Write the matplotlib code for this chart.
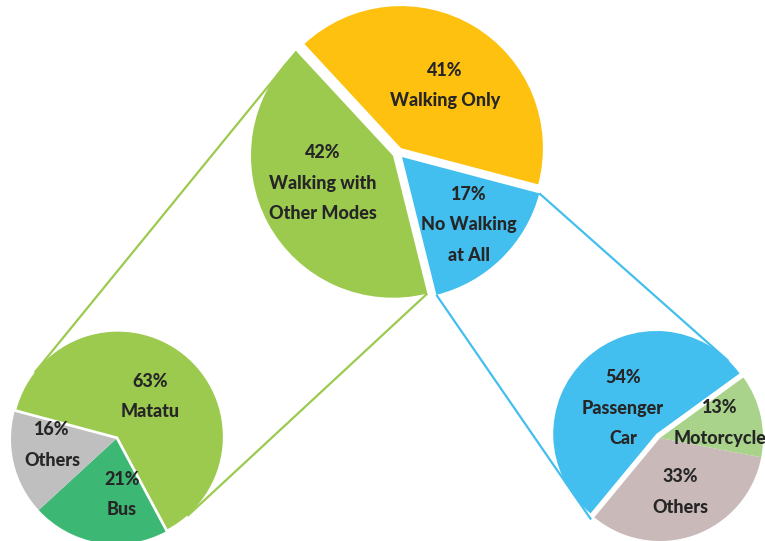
import numpy as np
import matplotlib.pyplot as plt

# main pie: how people travel
main_labels = ['Walking with\nOther Modes', 'No Walking\nat All', 'Walking Only']
main_values = [42, 17, 41]
main_colors = ['#9BCA4F', '#43BFEF', '#FEC10F']

# walking with other modes -> breakdown
walk_labels = ['Matatu', 'Bus', 'Others']
walk_values = [63, 21, 16]
walk_colors = ['#9BCA4F', '#3DB874', '#BFBFBF']

# no walking at all -> breakdown
nowalk_labels = ['Passenger\nCar', 'Others', 'Motorcycle']
nowalk_values = [54, 33, 13]
nowalk_colors = ['#43BFEF', '#C9B9B8', '#A9D38B']

W, H = 765, 541
fig = plt.figure(figsize=(W / 100, H / 100), dpi=100)
ax = fig.add_axes([0, 0, 1, 1])

TXT = '#262626'
FONT = dict(family='Lato', weight=900, size=13, color=TXT,
            ha='center', va='center', linespacing=1.95)


def draw_pie(values, colors, center, radius, start, ccw, explode):
    wedges, _ = ax.pie(values, colors=colors, center=center, radius=radius,
                       startangle=start, counterclock=ccw, explode=explode,
                       wedgeprops=dict(linewidth=0), normalize=True)
    for w in wedges:
        w.set_zorder(3)
    return wedges


def label(wedge, text, dist, dtheta=0):
    th = np.radians((wedge.theta1 + wedge.theta2) / 2 + dtheta)
    cx, cy = wedge.center
    ax.text(cx + dist * wedge.r * np.cos(th), cy + dist * wedge.r * np.sin(th),
            text, zorder=5, **FONT)


def corner(wedge, ang):
    cx, cy = wedge.center
    a = np.radians(ang)
    return np.array([cx + wedge.r * np.cos(a), cy + wedge.r * np.sin(a)])


def tangent(p, center, r, sign, ext=0):
    o = np.array(center)
    v = p - o
    d = np.hypot(*v)
    phi = np.arctan2(v[1], v[0])
    a = phi + sign * np.arccos(r / d)
    t = o + r * np.array([np.cos(a), np.sin(a)])
    u = (t - p) / np.hypot(*(t - p))
    return t + ext * u


# main pie
R_main = 142
c_main = (398, H - 153)
mw = draw_pie(main_values, main_colors, c_main, R_main, 132.8, True,
              [5.7, 5.7, 5.7])
pct = [f'{v}%' for v in main_values]
label(mw[0], pct[0] + '\n' + main_labels[0], 0.53, -7)
label(mw[1], pct[1] + '\n' + main_labels[1], 0.67, 0)
label(mw[2], pct[2] + '\n' + main_labels[2], 0.54, -4)

# left sub pie
R_sub = 105
c_left = (116, H - 439)
lw_ = draw_pie(walk_values, walk_colors, c_left, R_sub, 165, False,
               [3, 0, 0])
label(lw_[0], f'{walk_values[0]}%\n{walk_labels[0]}', 0.49, -0.7)
label(lw_[1], f'{walk_values[1]}%\n{walk_labels[1]}', 0.53, 15.8)
label(lw_[2], f'{walk_values[2]}%\n{walk_labels[2]}', 0.61, -8.4)

# right sub pie
R_sub2 = 103
c_right = (660, H - 438)
rw = draw_pie(nowalk_values, nowalk_colors, c_right, R_sub2, 36, True,
              [5.5, 0, 0])
label(rw[0], f'{nowalk_values[0]}%\n{nowalk_labels[0]}', 0.41, 9)
label(rw[1], f'{nowalk_values[1]}%\n{nowalk_labels[1]}', 0.56, 0.5)
label(rw[2], f'{nowalk_values[2]}%\n{nowalk_labels[2]}', 0.6, 1.4)

# connector lines from the exploded slices to the breakdown pies
g = mw[0]
p1 = corner(g, g.theta1)
p2 = corner(g, g.theta2)
for p, s in [(p1, 1), (p2, -1)]:
    t = tangent(p, c_left, R_sub, s)
    ax.plot([p[0], t[0]], [p[1], t[1]], color=main_colors[0], lw=1.6,
            zorder=1, solid_capstyle='butt')

b = mw[1]
q1 = corner(b, b.theta1)
q2 = corner(b, b.theta2)
for p, s, e in [(q2, -1, 0), (q1, 1, 28)]:
    t = tangent(p, c_right, R_sub2, s, e)
    ax.plot([p[0], t[0]], [p[1], t[1]], color=main_colors[1], lw=1.6,
            zorder=1, solid_capstyle='butt')

ax.set_xlim(0, W)
ax.set_ylim(0, H)
ax.set_aspect('equal')
ax.axis('off')

fig.savefig('out.png', dpi=100)
